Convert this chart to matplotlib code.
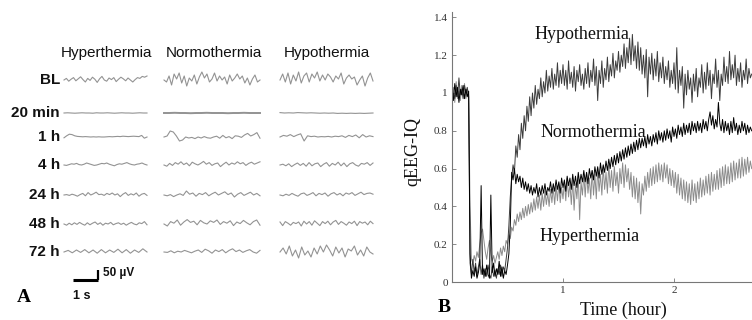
import numpy as np
import matplotlib
matplotlib.use("Agg")
import matplotlib.pyplot as plt

# ---------------- DATA ----------------
conditions = ["Hyperthermia", "Normothermia", "Hypothermia"]
timepoints = ["BL", "20 min", "1 h", "4 h", "24 h", "48 h", "72 h"]

# Panel A: EEG traces (microvolts), per condition, per timepoint
eeg_hyper = {
    "BL": [0, 8, -6, 4, 12, -4, 6, 16, 2, -10, 8, -2, 14, 4, -12, 6, 18, 0, -6, 10, 2, 12, -8, 4, 14, 6, -4, 10, 0, -10, 2, 12, 8, 18, 14, 20],
    "20 min": [0, 1, 0, -1, 0, 1, 0, 0, -1, 1, 0, 0, 1, 0, -1, 0, 1, 0, 0, -1, 0, 1, 0, 0],
    "1 h": [-4, 6, 14, 12, 6, 3, 2, 1, 2, 1, 0, 1, 0, 1, 0, 0, 1, 2, 1, 2, 3, 2, 4, 3, 2, 3, 4, 3, 2, 8, -6, 0],
    "4 h": [0, -2, 2, 6, 4, 8, 2, 0, 4, 10, 6, 2, -2, 0, 4, 8, 6, 10, 4, 0, -4, 2, 6, 4, 8, 12, 6, 2, 0, 4, 6, 10, 4, 0],
    "24 h": [0, 2, -2, 4, 0, -6, 2, 8, -4, 12, 0, 6, 14, 2, 4, -2, 8, 2, 10, 0, 6, -8, 4, 12, -2, 6, 0, 10, -6, 4, 8, -2],
    "48 h": [0, -6, 4, -4, 6, -2, 8, 0, -6, 6, -4, 4, 10, -2, 6, -6, 4, 0, 8, -4, 2, 6, -2, 4, -6, 2, 8, 0, -4, 6, 2, 12, -4],
    "72 h": [0, 8, -4, 10, -2, 12, -4, 10, -6, 12, -4, 10, -2, 14, -4, 12, -6, 10, -2, 16, 0],
}
eeg_normo = {
    "BL": [0, -10, 20, -25, 30, 5, 35, -15, 20, -30, 10, -5, 25, -20, 15, 40, 10, 30, -10, 5, 35, -5, 20, 0, 15, -20, 25, -5, 10, 30, 5, 20, -15, 10, -25, 5, 25, -10, 0],
    "20 min": [0, 0, 1, 0, 0, -1, 0, 0, 1, 0, 0, 0, -1, 0, 0, 1, 0, 0, 0],
    "1 h": [0, 5, 30, 25, 5, -20, -15, 0, -5, -2, -8, 0, -5, 2, -4, -6, 0, 4, -6, 8, -4, 2, -8, 6, 4, -2, 10, 18, 5, 12, 22, -6],
    "4 h": [0, -6, 8, -2, 12, 4, 16, 2, 10, -4, 14, 6, 0, 8, 18, 4, 12, -2, 6, 10, -8, 4, 14, 0, 10, 4, 16, 6, 12, -2, 8, 14, 4, 10, 16],
    "24 h": [0, -4, 2, -8, 0, 6, -2, 20, 4, 10, -6, 8, 2, 12, -4, 6, 14, 0, 8, 16, 2, 10, -10, 4, 12, -2, 6, 14, 0, 8, -4],
    "48 h": [0, -10, 12, 4, 20, -6, 10, 22, 8, 14, -4, 18, 6, 0, 16, 8, 20, -2, 12, 4, 16, -8, 10, 2, 18, 6, -4, 12, 20, -6],
    "72 h": [0, -2, 6, -4, 4, 0, 8, 2, -4, 4, 10, -2, 14, 6, -6, 10, 2, 12, -4, 8, 16, 2, 10, -2, 6, 12, 0, -6, 8],
}
eeg_hypo = {
    "BL": [0, 30, -10, 35, -20, 25, -5, 40, -15, 20, 35, -10, 30, 10, 40, -5, 25, 0, 30, 15, -10, 20, 5, 35, -20, 10, 25, 5, 15, -25, 0, 20, -30, 10, 35, -5],
    "20 min": [2, 0, 1, 0, 2, 1, 0, 1, 0, -1, 0, -1, 0, -2, -1, -2, -1, -2, -1, -2, -1, 0],
    "1 h": [0, 8, 4, 12, 2, 10, 16, -20, 6, 2, 4, 0, 2, 1, 3, 0, 4, 2, 6, -2, 8, 2, 10, -4, 12, 0, 6, 2],
    "4 h": [0, 4, -4, 6, -8, 2, 10, -2, 8, -6, 12, -4, 6, 10, -8, 4, 12, -6, 8, 0, 14, -4, 10, -8, 6, 12, 0, -6, 8, 4, 12, -2, 10],
    "24 h": [0, -4, 4, -2, 8, 0, -6, 6, 10, -2, 4, 12, -4, 8, 2, 10, -6, 6, 12, 0, 8, -4, 10, 4, 12, -2, 6, 14, 2, 8, 10, 4],
    "48 h": [10, -8, 12, 4, -6, 8, 2, 10, -10, 14, 0, 12, -6, 16, 4, -8, 12, 2, 14, -4, 10, 18, -2, 12, 4, -6, 10, 2, 14, -8, 12, 4, 10, -4, 14, 2],
    "72 h": [0, 20, -10, 30, -20, 10, -30, 25, -15, 5, -25, 20, -10, 30, 0, 35, 10, -20, 25, -5, 20, -25, 15, 5, 30, -15, 10, -20, 25, 0, -10],
}
eeg_traces = [eeg_hyper, eeg_normo, eeg_hypo]

scale_uv = 50
scale_s = 1

# Panel B: qEEG-IQ sampled every 0.0125 hour from 0 to 2.7 h (8 samples per row = 0.1 h)
hours = np.round(np.arange(0, 2.70001, 0.0125), 4)
qeeg_hypo = [
    0.95, 1.00, 0.97, 1.04, 0.98, 1.08, 0.99, 1.02,
    0.97, 1.04, 1.00, 1.03, 0.98, 0.10, 0.04, 0.12,
    0.05, 0.10, 0.03, 0.08, 0.12, 0.04, 0.09, 0.02,
    0.07, 0.03, 0.09, 0.04, 0.02, 0.08, 0.03, 0.06,
    0.02, 0.07, 0.04, 0.09, 0.03, 0.08, 0.06, 0.12,
    0.18, 0.30, 0.45, 0.55, 0.62, 0.58, 0.72, 0.66,
    0.78, 0.70, 0.84, 0.76, 0.88, 0.80, 0.93, 0.85,
    0.98, 0.88, 1.00, 0.92, 1.04, 0.94, 1.02, 0.97,
    1.08, 0.98, 1.06, 1.00, 1.12, 1.01, 1.09, 1.03,
    1.13, 1.02, 1.10, 1.04, 1.16, 1.03, 1.12, 1.05,
    1.15, 1.04, 1.12, 1.02, 1.17, 1.05, 1.11, 1.03,
    1.14, 1.01, 1.12, 1.06, 1.15, 1.04, 1.10, 1.02,
    1.13, 1.05, 1.16, 1.03, 1.12, 1.06, 1.18, 1.04,
    1.14, 0.96, 1.12, 1.05, 1.17, 1.03, 1.13, 1.07,
    1.19, 1.06, 1.15, 1.09, 1.21, 1.08, 1.17, 1.12,
    1.22, 1.11, 1.20, 1.14, 1.26, 1.13, 1.24, 1.16,
    1.29, 1.15, 1.31, 1.17, 1.25, 1.13, 1.27, 1.12,
    1.24, 1.10, 1.20, 1.08, 1.23, 0.98, 1.19, 1.10,
    1.21, 1.07, 1.18, 1.09, 1.22, 1.06, 1.16, 1.08,
    1.19, 1.05, 1.14, 1.07, 1.17, 1.03, 1.12, 1.05,
    1.16, 1.02, 1.24, 1.00, 1.12, 1.04, 1.14, 0.92,
    1.10, 0.99, 1.12, 1.02, 1.08, 0.95, 1.10, 1.01,
    1.13, 0.98, 1.08, 1.03, 1.15, 1.00, 1.11, 1.02,
    1.16, 1.04, 1.12, 0.97, 1.10, 1.05, 1.18, 1.03,
    1.12, 0.96, 1.10, 1.04, 1.19, 1.06, 1.14, 1.05,
    1.22, 1.07, 1.15, 1.08, 1.20, 1.04, 1.13, 1.06,
    1.16, 1.03, 1.12, 1.07, 1.18, 1.05, 1.13, 1.08,
    1.10,
]
qeeg_normo = [
    1.00, 0.96, 1.05, 0.98, 1.03, 0.95, 1.02, 0.99,
    1.04, 0.97, 1.02, 0.98, 1.01, 0.15, 0.02, 0.06,
    0.03, 0.08, 0.02, 0.05, 0.10, 0.51, 0.04, 0.07,
    0.03, 0.09, 0.04, 0.02, 0.46, 0.05, 0.10, 0.03,
    0.07, 0.04, 0.11, 0.03, 0.08, 0.02, 0.06, 0.04,
    0.09, 0.15, 0.30, 0.58, 0.54, 0.60, 0.52, 0.57,
    0.53, 0.56, 0.50, 0.55, 0.49, 0.53, 0.48, 0.52,
    0.47, 0.51, 0.46, 0.50, 0.47, 0.52, 0.45, 0.50,
    0.46, 0.51, 0.47, 0.52, 0.46, 0.50, 0.48, 0.53,
    0.47, 0.52, 0.48, 0.54, 0.49, 0.53, 0.47, 0.55,
    0.50, 0.54, 0.48, 0.56, 0.51, 0.55, 0.49, 0.57,
    0.51, 0.56, 0.50, 0.58, 0.52, 0.57, 0.53, 0.59,
    0.53, 0.58, 0.52, 0.60, 0.55, 0.59, 0.54, 0.61,
    0.56, 0.61, 0.55, 0.63, 0.57, 0.62, 0.58, 0.64,
    0.59, 0.65, 0.60, 0.66, 0.61, 0.67, 0.62, 0.68,
    0.63, 0.69, 0.64, 0.70, 0.65, 0.71, 0.66, 0.72,
    0.67, 0.73, 0.68, 0.74, 0.69, 0.75, 0.70, 0.76,
    0.71, 0.76, 0.72, 0.77, 0.71, 0.78, 0.73, 0.77,
    0.72, 0.78, 0.74, 0.79, 0.73, 0.80, 0.75, 0.79,
    0.74, 0.80, 0.75, 0.81, 0.76, 0.80, 0.74, 0.82,
    0.77, 0.81, 0.76, 0.83, 0.78, 0.82, 0.77, 0.84,
    0.78, 0.83, 0.79, 0.84, 0.78, 0.85, 0.80, 0.84,
    0.79, 0.85, 0.80, 0.84, 0.79, 0.86, 0.81, 0.85,
    0.80, 0.86, 0.90, 0.83, 0.88, 0.81, 0.86, 0.82,
    0.95, 0.84, 0.80, 0.86, 0.79, 0.85, 0.80, 0.84,
    0.78, 0.85, 0.79, 0.87, 0.80, 0.84, 0.78, 0.83,
    0.79, 0.85, 0.80, 0.84, 0.78, 0.83, 0.79, 0.82,
    0.80,
]
qeeg_hyper = [
    0.98, 1.03, 0.95, 1.06, 0.97, 1.01, 0.96, 1.04,
    0.99, 1.05, 0.97, 1.02, 0.99, 0.40, 0.12, 0.10,
    0.14, 0.11, 0.16, 0.13, 0.20, 0.26, 0.28, 0.22,
    0.16, 0.12, 0.18, 0.22, 0.15, 0.11, 0.14, 0.10,
    0.13, 0.16, 0.12, 0.18, 0.14, 0.19, 0.16, 0.22,
    0.20, 0.25, 0.23, 0.29, 0.27, 0.33, 0.30, 0.36,
    0.32, 0.37, 0.33, 0.39, 0.34, 0.40, 0.35, 0.41,
    0.36, 0.42, 0.37, 0.44, 0.38, 0.45, 0.39, 0.46,
    0.38, 0.47, 0.40, 0.48, 0.41, 0.47, 0.40, 0.49,
    0.42, 0.50, 0.41, 0.51, 0.43, 0.52, 0.42, 0.50,
    0.44, 0.53, 0.43, 0.55, 0.45, 0.52, 0.41, 0.54,
    0.38, 0.52, 0.44, 0.56, 0.33, 0.53, 0.46, 0.57,
    0.45, 0.58, 0.47, 0.55, 0.44, 0.59, 0.46, 0.57,
    0.44, 0.60, 0.48, 0.57, 0.46, 0.61, 0.49, 0.58,
    0.47, 0.62, 0.50, 0.59, 0.48, 0.61, 0.51, 0.58,
    0.47, 0.60, 0.52, 0.63, 0.50, 0.62, 0.53, 0.60,
    0.49, 0.58, 0.45, 0.56, 0.44, 0.55, 0.42, 0.53,
    0.36, 0.52, 0.46, 0.56, 0.48, 0.58, 0.50, 0.60,
    0.51, 0.61, 0.52, 0.62, 0.53, 0.63, 0.54, 0.62,
    0.53, 0.63, 0.55, 0.62, 0.52, 0.60, 0.51, 0.59,
    0.50, 0.58, 0.47, 0.57, 0.46, 0.55, 0.44, 0.54,
    0.43, 0.53, 0.42, 0.52, 0.41, 0.54, 0.43, 0.52,
    0.42, 0.53, 0.44, 0.55, 0.45, 0.54, 0.46, 0.56,
    0.47, 0.57, 0.46, 0.58, 0.48, 0.57, 0.49, 0.59,
    0.49, 0.60, 0.50, 0.61, 0.51, 0.62, 0.52, 0.61,
    0.52, 0.63, 0.53, 0.64, 0.54, 0.63, 0.55, 0.65,
    0.55, 0.66, 0.56, 0.65, 0.57, 0.66, 0.58, 0.64,
    0.60,
]
y_ticks = [0, 0.2, 0.4, 0.6, 0.8, 1, 1.2, 1.4]
y_tick_labels = ["0", "0.2", "0.4", "0.6", "0.8", "1", "1.2", "1.4"]
x_ticks = [1, 2]
x_tick_labels = ["1", "2"]

# ---------------- FIGURE ----------------
W, H = 752, 320
fig = plt.figure(figsize=(W / 100, H / 100), dpi=100)
fig.patch.set_facecolor("white")

SANS = "Liberation Sans"
SERIF = "Liberation Serif"

# ---- Panel A (pixel coordinates) ----
axA = fig.add_axes([0, 0, 380 / W, 1])
axA.set_xlim(0, 380)
axA.set_ylim(H, 0)
axA.axis("off")

col_x = [(64, 147), (164, 260), (280, 373)]
title_cx = [106, 214, 327]
row_y = [80, 113, 137, 165, 195, 224, 252]
px_per_uv = 0.2
trace_color = "#939393"

for ci, cond in enumerate(conditions):
    axA.text(title_cx[ci], 53, cond, ha="center", va="center",
             fontsize=11, family=SANS, color="#111111")
    x0, x1 = col_x[ci]
    for ri, tp in enumerate(timepoints):
        vals = np.asarray(eeg_traces[ci][tp], dtype=float)
        xs = np.linspace(x0, x1, len(vals))
        lw = 1.4 if (tp == "20 min" and ci == 1) else 0.8
        axA.plot(xs, row_y[ri] - vals * px_per_uv, color=trace_color, lw=lw,
                 solid_joinstyle="round")

for ri, tp in enumerate(timepoints):
    axA.text(60, row_y[ri], tp, ha="right", va="center", fontsize=11,
             family=SANS, fontweight="bold", color="#111111")

# scale bar
sx0, sy0 = 73, 280
sec_px = 25
axA.plot([sx0, sx0 + scale_s * sec_px], [sy0, sy0], color="black", lw=2.2,
         solid_capstyle="butt")
axA.plot([sx0 + scale_s * sec_px, sx0 + scale_s * sec_px],
         [sy0, sy0 - scale_uv * px_per_uv], color="black", lw=1.6,
         solid_capstyle="butt")
axA.text(103, 273, f"{scale_uv} µV", ha="left", va="center", fontsize=8.5,
         family=SANS, fontweight="bold", color="#111111")
axA.text(73, 296, f"{scale_s} s", ha="left", va="center", fontsize=9,
         family=SANS, fontweight="bold", color="#111111")
axA.text(17, 298, "A", ha="left", va="center", fontsize=14, family=SERIF,
         fontweight="bold", color="black")

# ---- Panel B ----
x0_px, y0_px = 452, 282
ymax = 1.43
top_px = y0_px - ymax * 189
xmax = (W - x0_px) / 111
axB = fig.add_axes([x0_px / W, (H - y0_px) / H, (W - x0_px) / W,
                    (y0_px - top_px) / H])
axB.set_xlim(0, xmax)
axB.set_ylim(0, ymax)

axB.plot(hours, qeeg_hyper, color="#8c8c8c", lw=0.7)
axB.plot(hours, qeeg_hypo, color="#3c3c3c", lw=0.7)
axB.plot(hours, qeeg_normo, color="#000000", lw=0.7)

for s in ["top", "right"]:
    axB.spines[s].set_visible(False)
for s in ["left", "bottom"]:
    axB.spines[s].set_color("#777777")
    axB.spines[s].set_linewidth(0.8)
axB.set_yticks(y_ticks)
axB.set_yticklabels(y_tick_labels)
axB.set_xticks(x_ticks)
axB.set_xticklabels(x_tick_labels)
axB.tick_params(direction="in", length=3, width=0.6, colors="#777777",
                labelcolor="#333333", labelsize=8, pad=3)
for lab in axB.get_xticklabels() + axB.get_yticklabels():
    lab.set_family(SERIF)

axB.text(1.17, 1.31, "Hypothermia", ha="center", va="center", fontsize=13,
         family=SERIF, color="#111111")
axB.text(1.27, 0.79, "Normothermia", ha="center", va="center", fontsize=13,
         family=SERIF, color="#111111")
axB.text(1.24, 0.24, "Hyperthermia", ha="center", va="center", fontsize=13,
         family=SERIF, color="#111111")

fig.text(413 / W, 1 - 152 / H, "qEEG-IQ", rotation=90, ha="center",
         va="center", fontsize=13, family=SERIF, color="#111111")
fig.text(623 / W, 1 - 310 / H, "Time (hour)", ha="center", va="center",
         fontsize=13, family=SERIF, color="#111111")
fig.text(438 / W, 1 - 307 / H, "B", ha="left", va="center", fontsize=14,
         family=SERIF, fontweight="bold", color="black")

fig.savefig("out.png", dpi=100, facecolor="white")
